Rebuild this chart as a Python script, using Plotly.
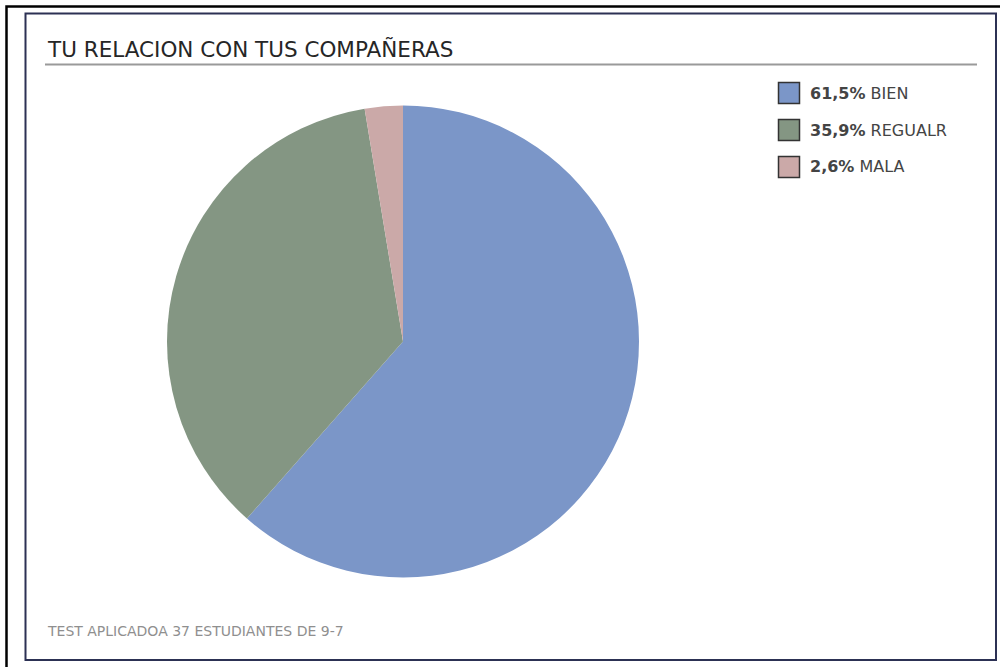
import plotly.graph_objects as go

# ---- data ----
categories = ["BIEN", "REGUALR", "MALA"]
percentages = [61.5, 35.9, 2.6]
colors = ["#7b96c8", "#849683", "#cba9a8"]
title_text = "TU RELACION CON TUS COMPAÑERAS"
footer_text = "TEST APLICADOA 37 ESTUDIANTES DE 9-7"

W, H = 1000, 667

def px_x(x):
    return x / W

def px_y(y):
    return 1 - y / H

fig = go.Figure()

cx, cy, r = 403, 341.5, 236
fig.add_trace(go.Pie(
    labels=categories,
    values=percentages,
    sort=False,
    direction="clockwise",
    rotation=0,
    marker=dict(colors=colors, line=dict(width=0)),
    textinfo="none",
    hoverinfo="label+percent",
    showlegend=False,
    domain=dict(x=[px_x(cx - r), px_x(cx + r)], y=[px_y(cy + r), px_y(cy - r)]),
))

shapes = []
# outer black border
shapes.append(dict(type="rect", xref="paper", yref="paper",
                   x0=px_x(6.5), x1=px_x(1020), y0=px_y(690), y1=px_y(6.5),
                   line=dict(color="#000000", width=2.5), fillcolor="rgba(0,0,0,0)", layer="above"))
# inner frame
shapes.append(dict(type="rect", xref="paper", yref="paper",
                   x0=px_x(25.5), x1=px_x(996), y0=px_y(660), y1=px_y(13.5),
                   line=dict(color="#2c3154", width=2), fillcolor="rgba(0,0,0,0)", layer="above"))
# title underline
shapes.append(dict(type="line", xref="paper", yref="paper",
                   x0=px_x(45), x1=px_x(977), y0=px_y(64.5), y1=px_y(64.5),
                   line=dict(color="#9a9a9a", width=2)))

annotations = []
annotations.append(dict(text=title_text, xref="paper", yref="paper",
                        x=px_x(45), y=px_y(49), xanchor="left", yanchor="middle",
                        showarrow=False,
                        font=dict(family="DejaVu Sans", size=21.5, color="#262626")))
annotations.append(dict(text=footer_text, xref="paper", yref="paper",
                        x=px_x(45), y=px_y(631), xanchor="left", yanchor="middle",
                        showarrow=False,
                        font=dict(family="DejaVu Sans", size=14, color="#8f8f8f")))

# manual legend
lx, ly0, step, box = 778.5, 93, 37, 21
for i, (cat, pct, col) in enumerate(zip(categories, percentages, colors)):
    yc = ly0 + i * step
    shapes.append(dict(type="rect", xref="paper", yref="paper",
                       x0=px_x(lx), x1=px_x(lx + box),
                       y0=px_y(yc + box / 2), y1=px_y(yc - box / 2),
                       line=dict(color="#333333", width=1.5), fillcolor=col))
    label = f"<b>{pct:.1f}%</b> {cat}".replace(".", ",")
    annotations.append(dict(text=label, xref="paper", yref="paper",
                            x=px_x(808), y=px_y(yc), xanchor="left", yanchor="middle",
                            showarrow=False,
                            font=dict(family="DejaVu Sans", size=16, color="#444444")))

fig.update_layout(
    width=W, height=H,
    margin=dict(l=0, r=0, t=0, b=0),
    paper_bgcolor="#ffffff",
    plot_bgcolor="#ffffff",
    shapes=shapes,
    annotations=annotations,
)

# remove the default 8px body margin so the figure fills the window exactly
fig.write_html("out.html",
               config={"displayModeBar": False},
               post_script="document.body.style.margin='0';document.body.style.overflow='hidden';")
